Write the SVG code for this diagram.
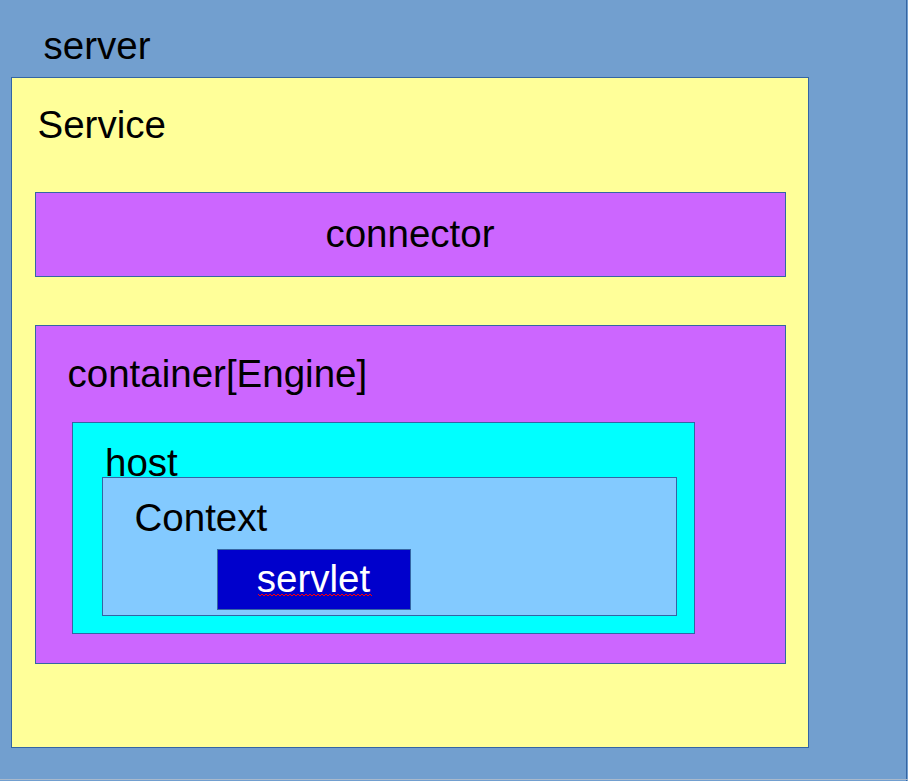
<svg xmlns="http://www.w3.org/2000/svg" width="908" height="781" viewBox="0 0 908 781">
<style>
.box{stroke:#3465a4;stroke-width:1}
.t{font-family:"Liberation Sans",Arial,sans-serif;font-size:38.5px;fill:#000}
</style>
<rect x="0" y="0" width="908" height="781" fill="#729fcf"/>
<line x1="906.5" y1="0" x2="906.5" y2="781" stroke="#3465a4" stroke-width="1"/>
<line x1="0" y1="779.5" x2="908" y2="779.5" stroke="#a9b9cc" stroke-width="1"/>
<g id="server">
<text class="t" x="43.5" y="59">server</text>
</g>
<g id="service">
<rect class="box" x="11.5" y="77.5" width="797" height="670" fill="#ffff99"/>
<text class="t" x="37.5" y="138">Service</text>
</g>
<g id="connector">
<rect class="box" x="35.5" y="192.5" width="750" height="84" fill="#cc66ff"/>
<text class="t" x="410" y="247" text-anchor="middle">connector</text>
</g>
<g id="container">
<rect class="box" x="35.5" y="325.5" width="750" height="338" fill="#cc66ff"/>
<text class="t" x="67.5" y="387">container[Engine]</text>
</g>
<g id="host">
<rect class="box" x="72.5" y="422.5" width="622" height="211" fill="#00ffff"/>
<text class="t" x="105" y="476">host</text>
</g>
<g id="context">
<rect class="box" x="102.5" y="477.5" width="574" height="138" fill="#83caff"/>
<text class="t" x="134.5" y="531">Context</text>
</g>
<g id="servlet">
<rect class="box" x="217.5" y="549.5" width="193" height="60" fill="#0000cc"/>
<text class="t" x="313.5" y="592" text-anchor="middle" style="fill:#fff">servlet</text>
<path d="M258 594 l2 2 l2 -2 l2 2 l2 -2 l2 2 l2 -2 l2 2 l2 -2 l2 2 l2 -2 l2 2 l2 -2 l2 2 l2 -2 l2 2 l2 -2 l2 2 l2 -2 l2 2 l2 -2 l2 2 l2 -2 l2 2 l2 -2 l2 2 l2 -2 l2 2 l2 -2 l2 2 l2 -2 l2 2 l2 -2 l2 2 l2 -2 l2 2 l2 -2 l2 2 l2 -2 l2 2 l2 -2 l2 2 l2 -2 l2 2 l2 -2 l2 2 l2 -2 l2 2 l2 -2 l2 2 l2 -2 l2 2 l2 -2 l2 2 l2 -2 l2 2 l2 -2 l2 2" fill="none" stroke="#ff0000" stroke-width="1"/>
</g>
<g id="connectors"></g>
</svg>
